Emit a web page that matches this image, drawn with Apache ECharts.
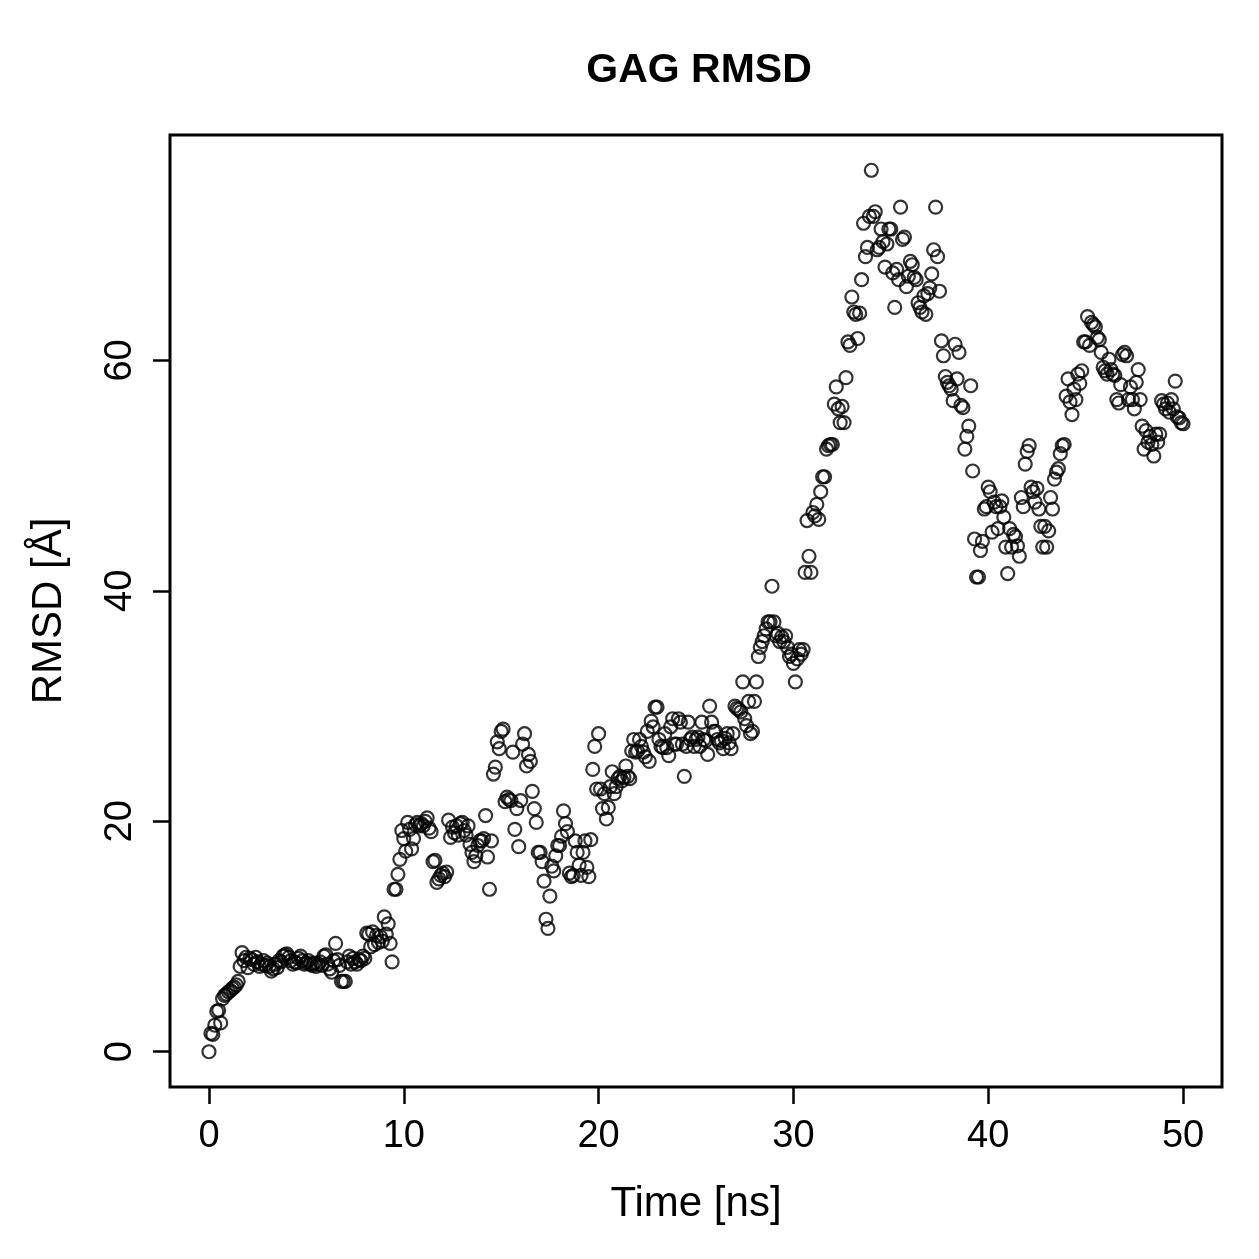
<!DOCTYPE html>
<html>
<head>
<meta charset="utf-8">
<script src="https://cdn.jsdelivr.net/npm/echarts@6/dist/echarts.min.js"></script>
<style>
  html, body { margin: 0; padding: 0; background: #fff; }
  #chart { width: 1259px; height: 1259px; }
</style>
</head>
<body>
<div id="chart"></div>
<script>
  const timeStep = 0.1
  const rmsd = [
    0, 1.6, 1.5, 2.3, 3.5, 3.6, 2.5, 4.6, 4.9, 5.0,
    5.2, 5.3, 5.5, 5.6, 5.8, 6.1, 7.4, 8.6, 7.9, 8.2,
    7.3, 8.1, 8.0, 7.6, 8.2, 7.8, 7.4, 7.6, 7.9, 7.5,
    7.7, 7.4, 7.0, 7.2, 7.6, 7.3, 7.9, 7.8, 8.3, 8.4,
    8.5, 8.2, 7.9, 7.6, 7.8, 7.7, 8.1, 8.3, 7.9, 7.6,
    7.7, 7.9, 7.6, 7.5, 7.7, 7.4, 7.6, 7.8, 7.5, 8.3,
    8.4, 7.6, 7.2, 6.9, 7.9, 9.4, 8.0, 7.5, 6.1, 6.1,
    6.1, 7.8, 8.3, 7.6, 8.1, 7.8, 7.6, 8.0, 7.9, 8.3,
    8.1, 10.3, 10.2, 9.1, 10.4, 9.3, 10.1, 9.5, 10.0, 9.6,
    11.7, 10.2, 11.1, 9.4, 7.8, 14.1, 14.1, 15.4, 16.7, 19.2,
    18.5, 17.4, 19.9, 19.3, 17.6, 18.5, 19.7, 19.9, 19.6, 19.8,
    19.6, 20.0, 20.3, 19.4, 19.1, 16.5, 16.6, 14.7, 15.0, 15.3,
    15.5, 15.2, 15.6, 20.1, 18.6, 19.5, 19.0, 19.6, 18.8, 19.8,
    19.9, 19.2, 18.8, 19.6, 18.0, 17.3, 16.5, 17.0, 17.9, 18.3,
    18.3, 18.5, 20.5, 16.9, 14.1, 18.3, 24.1, 24.7, 26.9, 26.3,
    27.8, 28.0, 21.7, 22.1, 21.9, 21.8, 26.0, 19.3, 21.1, 17.8,
    21.8, 26.7, 27.6, 24.8, 25.8, 25.2, 22.6, 21.1, 19.9, 17.3,
    17.3, 16.5, 14.8, 11.5, 10.7, 13.5, 16.1, 15.7, 17.0, 17.9,
    17.9, 18.7, 20.9, 19.8, 19.1, 15.5, 15.2, 15.3, 18.3, 17.3,
    16.2, 15.3, 17.3, 18.3, 16.0, 15.2, 18.4, 24.5, 26.5, 22.8,
    27.6, 22.8, 21.1, 22.4, 20.2, 21.2, 23.0, 24.3, 22.4, 23.0,
    23.7, 23.9, 23.5, 23.8, 24.8, 23.9, 23.7, 26.1, 27.1, 26.0,
    26.1, 27.1, 26.5, 26.0, 25.6, 27.8, 25.2, 28.7, 28.2, 29.9,
    29.9, 27.1, 26.5, 26.4, 27.6, 26.4, 25.7, 28.2, 28.9, 26.7,
    26.7, 28.9, 28.6, 26.7, 23.9, 26.5, 28.6, 27.1, 27.3, 26.5,
    27.1, 27.3, 26.5, 28.6, 27.1, 27.0, 25.8, 30.0, 28.6, 27.8,
    27.8, 27.1, 26.8, 27.0, 26.3, 27.2, 27.6, 26.8, 26.3, 27.6,
    30.0, 29.8, 29.7, 29.5, 32.1, 28.9, 28.3, 30.4, 27.6, 27.8,
    30.4, 32.1, 34.3, 35.1, 35.6, 36.1, 36.7, 37.3, 37.3, 40.4,
    37.3, 36.1, 36.3, 35.6, 36.0, 35.6, 36.1, 35.1, 34.3, 34.5,
    33.7, 32.1, 34.1, 34.9, 34.5, 34.9, 41.6, 46.1, 43.0, 41.6,
    46.8, 46.5, 47.5, 46.2, 48.6, 49.9, 49.9, 52.3, 52.6, 52.7,
    52.7, 56.2, 57.7, 55.8, 54.6, 56.0, 54.6, 58.5, 61.6, 61.3,
    65.5, 64.2, 64.0, 61.9, 64.1, 67.0, 71.9, 69.0, 69.8, 72.5,
    76.5, 72.5, 72.9, 69.6, 69.8, 71.4, 70.3, 68.1, 70.1, 71.4,
    71.4, 67.6, 64.6, 67.9, 67.0, 73.3, 70.5, 70.7, 66.4, 67.3,
    68.6, 68.3, 67.2, 67.0, 65.0, 64.6, 64.2, 65.6, 64.0, 65.8,
    66.3, 67.5, 69.6, 73.3, 69.0, 66.0, 61.7, 60.4, 58.6, 58.1,
    57.8, 57.5, 56.5, 61.4, 58.4, 60.7, 56.1, 55.9, 52.3, 53.4,
    54.3, 57.8, 50.4, 44.5, 41.2, 41.2, 43.5, 44.3, 47.1, 47.3,
    49.0, 48.6, 45.1, 47.7, 47.3, 45.4, 47.3, 47.8, 46.4, 43.8,
    41.5, 45.4, 43.8, 44.9, 44.7, 43.9, 43.0, 48.1, 47.3, 51.0,
    52.1, 52.6, 49.0, 48.6, 47.7, 48.9, 47.1, 45.6, 43.8, 45.6,
    43.8, 45.2, 48.1, 47.1, 49.7, 50.3, 50.6, 51.9, 52.6, 52.7,
    56.9, 58.4, 56.4, 55.3, 57.5, 56.6, 58.8, 58.0, 59.1, 61.6,
    61.6, 63.8, 61.3, 63.3, 63.1, 62.9, 62.0, 61.8, 60.7, 59.4,
    59.1, 58.8, 60.1, 59.2, 58.8, 58.7, 56.6, 56.3, 57.9, 60.5,
    60.7, 60.4, 56.6, 57.7, 56.6, 55.8, 58.1, 59.2, 56.6, 54.3,
    52.3, 53.9, 52.9, 53.4, 52.7, 51.7, 53.6, 52.9, 53.6, 56.5,
    56.2, 55.8, 56.3, 55.5, 56.6, 55.8, 58.2, 55.1, 55.0, 54.6,
    54.5
  ]
  const xTicks = [0, 10, 20, 30, 40, 50]
  const yTicks = [0, 20, 40, 60]

  let points = rmsd.map((v, i) => [+(i * timeStep).toFixed(1), v])

  // R style axis range: data range padded by 4% on each side
  let xMaxData = (rmsd.length - 1) * timeStep
  let xPad = xMaxData * 0.04
  let yMinData = Math.min(...rmsd)
  let yMaxData = Math.max(...rmsd)
  let yPad = (yMaxData - yMinData) * 0.04

  let myChart = echarts.init(document.getElementById('chart'))
  let font = 'Liberation Sans, Arial, Helvetica, sans-serif'
  let option = {
    animation: false,
    textStyle: {fontFamily: font, color: '#000'},
    title: {
      text: 'GAG RMSD',
      left: 694,
      textAlign: 'center',
      top: 45,
      textStyle: {fontSize: 41, fontWeight: 'bold', color: '#000', fontFamily: font}
    },
    grid: {
      left: 170,
      right: 37,
      top: 135,
      bottom: 172,
      show: true,
      borderColor: '#000',
      borderWidth: 3,
      backgroundColor: 'transparent'
    },
    xAxis: {
      type: 'value',
      min: -xPad,
      max: xMaxData + xPad,
      name: 'Time [ns]',
      nameLocation: 'middle',
      nameGap: 96,
      nameTextStyle: {fontSize: 42, color: '#000', fontFamily: font},
      axisLine: {show: false, onZero: false},
      splitLine: {show: false},
      axisTick: {show: true, length: 17, customValues: xTicks, lineStyle: {color: '#000', width: 2.5}},
      axisLabel: {customValues: xTicks, fontSize: 38, color: '#000', margin: 31, fontFamily: font}
    },
    yAxis: {
      type: 'value',
      min: yMinData - yPad,
      max: yMaxData + yPad,
      name: 'RMSD [Å]',
      nameLocation: 'middle',
      nameRotate: 90,
      nameGap: 100,
      nameTextStyle: {fontSize: 42, color: '#000', fontFamily: font},
      axisLine: {show: false, onZero: false},
      splitLine: {show: false},
      axisTick: {show: true, length: 17, customValues: yTicks, lineStyle: {color: '#000', width: 2.5}},
      axisLabel: {customValues: yTicks, rotate: 90, fontSize: 38, color: '#000', margin: 30, fontFamily: font}
    },
    series: [
      {
        name: 'RMSD',
        type: 'scatter',
        symbol: 'circle',
        symbolSize: 13,
        itemStyle: {
          color: 'rgba(0,0,0,0)',
          borderColor: '#000',
          borderWidth: 2.2
        },
        data: points
      }
    ]
  }
  myChart.setOption(option)
</script>
</body>
</html>
